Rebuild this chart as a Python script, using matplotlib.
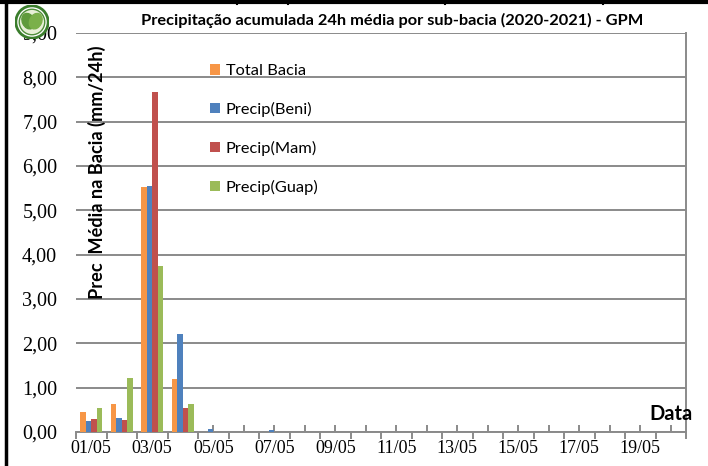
import numpy as np
import matplotlib.pyplot as plt
from matplotlib.lines import Line2D
from matplotlib.patches import Circle, Ellipse

# Data (mm/24h), 01/05 .. 20/05
dias = ["%02d/05" % d for d in range(1, 21)]
total_bacia = [0.45, 0.64, 5.53, 1.20, 0.01, 0.01, 0.00, 0.01, 0, 0,
               0, 0, 0, 0, 0, 0, 0, 0, 0, 0]
precip_beni = [0.25, 0.31, 5.54, 2.21, 0.07, 0.00, 0.05, 0.00, 0, 0,
               0, 0, 0, 0, 0, 0, 0, 0, 0, 0]
precip_mam = [0.30, 0.27, 7.68, 0.54, 0.00, 0.00, 0.00, 0.00, 0, 0,
              0, 0, 0, 0, 0, 0, 0, 0, 0, 0]
precip_guap = [0.54, 1.22, 3.75, 0.63, 0.00, 0.00, 0.00, 0.00, 0, 0,
               0, 0, 0, 0, 0, 0, 0, 0, 0, 0]

series = [("Total Bacia", total_bacia, "#F79646"),
          ("Precip(Beni)", precip_beni, "#4F81BD"),
          ("Precip(Mam)", precip_mam, "#C0504D"),
          ("Precip(Guap)", precip_guap, "#9BBB59")]

W, H = 708, 466
fig = plt.figure(figsize=(W / 100, H / 100), dpi=100)
ax = fig.add_axes([76 / W, 1 - 432 / H, 610 / W, 399 / H])

x = np.arange(len(dias))
w = 0.18
handles = []
for i, (nome, vals, cor) in enumerate(series):
    b = ax.bar(x + (i - 1.5) * w, vals, w, color=cor, label=nome, zorder=3)
    handles.append(b)

ax.set_xlim(-0.5, len(dias) - 0.5)
ax.set_ylim(0, 9)

# grid / spines
grey = "#8a8a8a"
ax.set_axisbelow(True)
ax.yaxis.grid(True, color=grey, linewidth=1.4)
for s in ["left", "top"]:
    ax.spines[s].set_visible(False)
for s in ["bottom", "right"]:
    ax.spines[s].set_color(grey)
    ax.spines[s].set_linewidth(1.4)

# y ticks
ax.set_yticks(np.arange(0, 10, 1))
ax.set_yticklabels(["%d,00" % v for v in range(10)], family="Liberation Serif",
                   fontsize=14.5)
ax.tick_params(axis="y", length=0, pad=13.5)

# x ticks: major at boundaries, minor (labelled) at centers
ax.set_xticks(np.arange(-0.5, len(dias), 1))
ax.set_xticklabels([])
ax.tick_params(axis="x", which="major", direction="out", length=5,
               width=1.4, color=grey)
ax.set_xticks(x, minor=True)
ax.set_xticklabels([d if i % 2 == 0 else "" for i, d in enumerate(dias)],
                   minor=True, family="Liberation Serif", fontsize=13)
ax.tick_params(axis="x", which="minor", direction="in", length=5, width=1.4,
               color=grey, pad=6)

# legend
leg = ax.legend(handles=handles, loc="upper left",
                bbox_to_anchor=(197 / W, 1 - 51 / H), bbox_transform=fig.transFigure,
                frameon=False, prop={"family": "Lato", "size": 11.8},
                handlelength=0.6, handleheight=0.6, handletextpad=0.35,
                labelspacing=1.45, borderpad=0.3)

# title and labels
fig.text(392 / W, 1 - 20 / H,
         "Precipitação acumulada 24h média por sub-bacia (2020-2021) - GPM",
         ha="center", va="center", fontsize=11.8, fontweight="bold", family="Lato")
fig.text(97 / W, 1 - 172 / H, "Prec  Média na Bacia (mm/24h)", rotation=90,
         ha="center", va="center", fontsize=13.1, fontweight="bold", family="Lato")
fig.text(649 / W, 1 - 414 / H, "Data", ha="left", va="center",
         fontsize=14.5, fontweight="bold", family="Lato")

# page borders
fig.add_artist(Line2D([0, 1], [1 - 2 / H, 1 - 2 / H], color="black", lw=3,
                      transform=fig.transFigure))
fig.add_artist(Line2D([6 / W, 6 / W], [0, 1], color="black", lw=2.5,
                      transform=fig.transFigure))
for xv in [237, 288, 445, 603]:
    fig.add_artist(Line2D([xv / W, xv / W], [1 - 4 / H, 1], color="black", lw=1.5,
                          transform=fig.transFigure))

# logo
lax = fig.add_axes([15 / W, 1 - 39 / H, 34 / W, 34 / H])
lax.set_xlim(-1, 1)
lax.set_ylim(-1, 1)
lax.set_aspect("equal")
lax.axis("off")
lax.add_patch(Circle((0, 0), 0.95, facecolor="white", edgecolor="#3a7d2c", lw=2))
lax.add_patch(Circle((0, 0), 0.75, facecolor="#e8f0d8", edgecolor="#4f8f3a", lw=1))
lax.add_patch(Ellipse((-0.22, 0.05), 0.7, 0.95, angle=25, color="#5f9a3c"))
lax.add_patch(Ellipse((0.22, 0.05), 0.7, 0.95, angle=-25, color="#7ab04a"))

fig.savefig("out.png", dpi=100)
